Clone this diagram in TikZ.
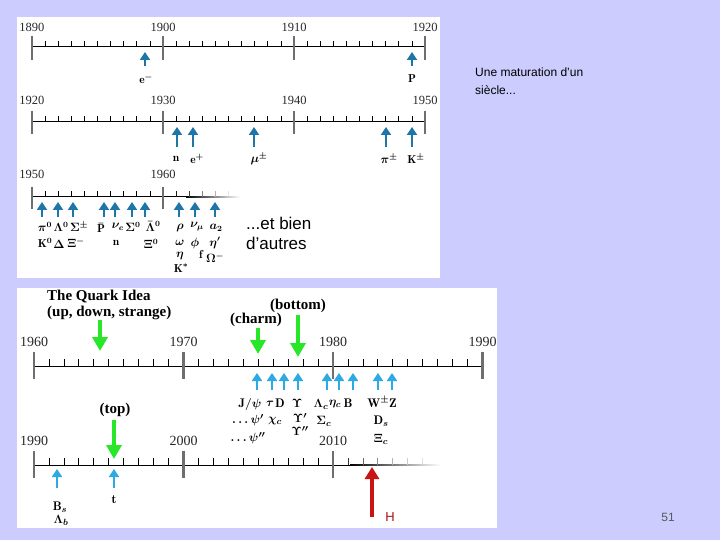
\documentclass[tikz,border=0pt]{standalone}
\usepackage{fontspec}
\usetikzlibrary{arrows.meta}
\newfontfamily\yrfont{Liberation Serif}
\newfontfamily\sansf{Liberation Sans}
\definecolor{bgl}{RGB}{204,204,255}
\definecolor{darrow}{RGB}{30,118,168}
\definecolor{larrow}{RGB}{45,170,225}
\definecolor{garrow}{RGB}{40,230,40}
\definecolor{rarrow}{RGB}{200,20,20}
\definecolor{majt}{RGB}{110,110,110}
\definecolor{yrc}{RGB}{40,40,40}
\tikzset{
  yr/.style={font=\yrfont\fontsize{12.5}{13}\selectfont, text=yrc, inner sep=0pt},
  yrb/.style={font=\yrfont\fontsize{14}{15}\selectfont, text=yrc, inner sep=0pt},
  minort/.style={line width=0.8pt},
  majort/.style={line width=1.8pt, majt},
  axisl/.style={line width=1pt, black},
  darr/.style={draw=darrow, line width=2.6pt, -{Triangle[width=10pt,length=8pt]}},
  larr/.style={draw=larrow, line width=2.6pt, -{Triangle[width=10pt,length=8pt]}},
  garr/.style={draw=garrow, line width=4.2pt, -{Triangle[width=15pt,length=14pt]}},
  rarr/.style={draw=rarrow, line width=3.8pt, -{Triangle[width=14pt,length=12pt]}},
  pls/.style={font=\fontsize{11.5}{12}\selectfont\boldmath, inner sep=0pt},
  plb/.style={font=\fontsize{12.5}{13}\selectfont\boldmath, inner sep=0pt},
  qlab/.style={font=\yrfont\bfseries\fontsize{15}{16}\selectfont, inner sep=0pt},
  sanst/.style={font=\sansf\fontsize{12}{13}\selectfont, inner sep=0pt, anchor=west},
  sansbig/.style={font=\sansf\fontsize{17}{18}\selectfont, inner sep=0pt, anchor=west},
}
\begin{document}
\begin{tikzpicture}[x=1pt,y=-1pt]
\fill[bgl] (0,0) rectangle (720,540);
\useasboundingbox (0,0) rectangle (720,540);
\fill[white] (17,17) rectangle (440,278);
\fill[white] (17,288) rectangle (497,528);

% ---------- Timeline 1: 1890-1920
\draw[axisl] (32,47) -- (426,47);
\foreach \i in {1,...,29} \draw[minort] ({32+13.1*\i},47) -- ++(0,-6);
\foreach \i/\yy in {0/1890,1/1900,2/1910,3/1920}{
  \draw[majort] ({32+131*\i},36) -- ++(0,24);
  \node[yr] (ya\i) at ({32+131*\i},27) {\yy};
}
\draw[darr] (145,66) -- (145,52);
\draw[darr] (412,66) -- (412,52);
\node[pls] (em) at (146,79) {$\mathrm{e}^-$};
\node[pls] (pp) at (412,79) {$\mathrm{P}$};

% ---------- Timeline 2: 1920-1950
\draw[axisl] (32,122) -- (426,122);
\foreach \i in {1,...,29} \draw[minort] ({32+13.1*\i},122) -- ++(0,-6);
\foreach \i/\yy in {0/1920,1/1930,2/1940,3/1950}{
  \draw[majort] ({32+131*\i},111) -- ++(0,23);
  \node[yr] (yb\i) at ({32+131*\i},100) {\yy};
}
\foreach \xx in {177,193,254,386,412} \draw[darr] (\xx,147) -- (\xx,127);
\node[pls] (nn) at (176,159) {$\mathrm{n}$};
\node[pls] (ep) at (197,159) {$\mathrm{e}^+$};
\node[pls] (mu) at (259,159) {$\mu^\pm$};
\node[pls] (pi) at (389,159) {$\pi^\pm$};
\node[pls] (kk) at (416,159) {$\mathrm{K}^\pm$};

% ---------- Timeline 3: 1950-1960...
\draw[axisl] (32,197) -- (186,197);
\shade[left color=black,right color=white] (186,196.5) rectangle (240,197.5);
\foreach \i in {1,...,9} \draw[minort] ({32+13.1*\i},197) -- ++(0,-6);
\foreach \i/\c in {11/90,12/75,13/50,14/30,15/12} \draw[minort,black!\c] ({32+13.1*\i},197) -- ++(0,-6);
\foreach \i/\yy in {0/1950,1/1960}{
  \draw[majort] ({32+131*\i},187) -- ++(0,22);
  \node[yr] (yc\i) at ({32+131*\i},174) {\yy};
}
\foreach \xx in {42,58,73,104,115,132,145,179,195,215} \draw[darr] (\xx,217) -- (\xx,202);
\node[pls] (c1) at (45,227) {$\pi^0$};
\node[pls] (c2) at (61,227) {$\Lambda^0$};
\node[pls] (c3) at (79,227) {$\Sigma^\pm$};
\node[pls] (c4) at (101,228) {$\bar{\mathrm{P}}$};
\node[pls] (c5) at (118,227) {$\nu_e$};
\node[pls] (c6) at (133,227) {$\Sigma^0$};
\node[pls] (c7) at (153,226) {$\bar\Lambda^0$};
\node[pls] (c8) at (180,228) {$\rho$};
\node[pls] (c9) at (197,227) {$\nu_\mu$};
\node[pls] (c10) at (216,228) {$a_2$};
\node[pls] (d1) at (45,243) {$\mathrm{K}^0$};
\node[pls] (d2) at (59,244) {$\Delta$};
\node[pls] (d3) at (76,243) {$\Xi^-$};
\node[pls] (d4) at (116,243) {$\mathrm{n}$};
\node[pls] (d5) at (151,244) {$\Xi^0$};
\node[pls] (d6) at (180,243) {$\omega$};
\node[pls] (d7) at (195,243) {$\phi$};
\node[pls] (d8) at (215,243) {$\eta'$};
\node[pls] (e1) at (180,256) {$\eta$};
\node[pls] (e2) at (201,254) {$\mathrm{f}$};
\node[pls] (e3) at (215,258) {$\Omega^-$};
\node[pls] (f1) at (181,268) {$\mathrm{K}^*$};

\node[sansbig] (etb) at (246,223) {...et bien};
\node[sansbig] (dau) at (246,243) {d’autres};
\node[sanst] (une) at (475,72) {Une maturation d’un};
\node[sanst] (sie) at (475,90) {siècle...};

% ---------- Timeline 4: 1960-1990
\draw[axisl] (34,366) -- (482,366);
\foreach \i in {1,...,29} \draw[minort] ({34+14.95*\i},366) -- ++(0,-7);
\foreach \i/\yy in {0/1960,1/1970,2/1980,3/1990}{
  \draw[majort,line width=2.3pt] ({34+149.5*\i},352) -- ++(0,27);
  \node[yrb] (yd\i) at ({34+149.5*\i},342) {\yy};
}
\node[qlab,anchor=west] (qi1) at (47,297) {The Quark Idea};
\node[qlab,anchor=west] (qi2) at (47,313) {(up, down, strange)};
\node[qlab] (charm) at (256,320) {(charm)};
\node[qlab] (bottom) at (298,306) {(bottom)};
\draw[garr] (100,320) -- (100,351);
\draw[garr] (258,328) -- (258,354);
\draw[garr] (298,315) -- (298,357);
\foreach \xx in {257,272,284,298,327,339,353,378,392} \draw[larr] (\xx,390) -- (\xx,373);
\node[plb] (g1) at (250,404) {$\mathrm{J}/\psi$};
\node[plb] (g2) at (270,404) {$\tau$};
\node[plb] (g3) at (280,403) {$\mathrm{D}$};
\node[plb] (g4) at (297,403) {$\Upsilon$};
\node[plb] (g5) at (321,404) {$\Lambda_c$};
\node[plb] (g6) at (335,404) {$\eta_c$};
\node[plb] (g7) at (348,403) {$\mathrm{B}$};
\node[plb] (g8) at (382,402) {$\mathrm{W}^{\pm}\mathrm{Z}$};
\node[plb] (h1) at (248,420) {$\ldots\psi'$};
\node[plb] (h2) at (275,421) {$\chi_c$};
\node[plb] (h3) at (300,418) {$\Upsilon'$};
\node[plb] (h4) at (324,421) {$\Sigma_c$};
\node[plb] (h5) at (381,421) {$\mathrm{D}_s$};
\node[plb] (i1) at (248,438) {$\ldots\psi''$};
\node[plb] (i2) at (300,431) {$\Upsilon''$};
\node[plb] (i3) at (381,439) {$\Xi_c$};

% ---------- Timeline 5: 1990-2010...
\draw[axisl] (34,465) -- (350,465);
\shade[left color=black,right color=white] (350,464.5) rectangle (440,465.5);
\foreach \i in {1,...,19} \draw[minort] ({34+14.95*\i},465) -- ++(0,-7);
\foreach \i/\c in {21/80,22/60,23/45,24/30,25/20,26/12} \draw[minort,black!\c] ({34+14.95*\i},465) -- ++(0,-7);
\foreach \i/\yy in {0/1990,1/2000,2/2010}{
  \draw[majort,line width=2.3pt] ({34+149.5*\i},451) -- ++(0,27);
  \node[yrb] (ye\i) at ({34+149.5*\i},441) {\yy};
}
\node[qlab] (top) at (115,410) {(top)};
\draw[garr] (114,420) -- (114,459);
\draw[larr] (57,488) -- (57,469);
\draw[larr] (114,488) -- (114,469);
\node[plb] (bs) at (60,507) {$\mathrm{B}_s$};
\node[plb] (lb) at (61,520) {$\Lambda_b$};
\node[plb] (tq) at (114,500) {$\mathrm{t}$};
\draw[rarr] (372,517) -- (372,467);
\node[font=\sansf\fontsize{13}{14}\selectfont, text=rarrow!85!black, inner sep=0pt] (hh) at (390,517) {H};

\node[font=\sansf\fontsize{12}{13}\selectfont, text=black!65, inner sep=0pt] (pg) at (668,517) {51};
\end{tikzpicture}
\end{document}
